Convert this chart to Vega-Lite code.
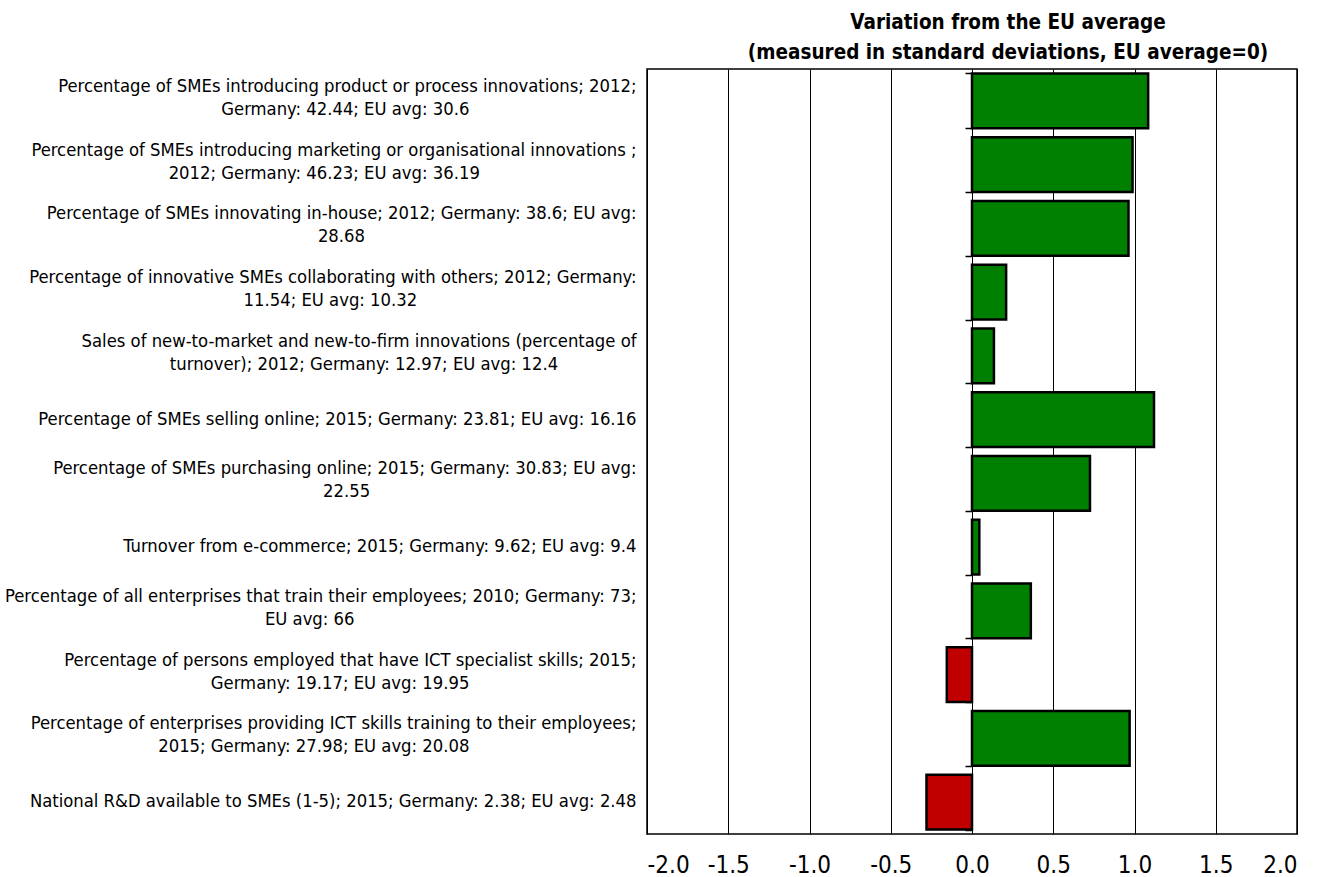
{
  "$schema": "https://vega.github.io/schema/vega-lite/v6.json",
  "autosize": {"type": "none"},
  "padding": {"left": 647, "top": 69, "right": 33, "bottom": 43},
  "width": 650,
  "height": 765,
  "background": "white",
  "config": {
    "view": {"stroke": "#000000", "strokeWidth": 1.5},
    "font": "DejaVu Sans Condensed, DejaVu Sans, sans-serif"
  },
  "title": {
    "text": ["Variation from the EU average", "(measured in standard deviations, EU average=0)"],
    "font": "DejaVu Sans Condensed, DejaVu Sans, sans-serif",
    "fontSize": 20.5,
    "fontWeight": "bold",
    "color": "#000000",
    "anchor": "middle",
    "dx": 36,
    "offset": 6,
    "lineHeight": 30
  },
  "data": {
    "values": [
      {"indicator": "Percentage of SMEs introducing product or process innovations; 2012;|Germany: 42.44; EU avg: 30.6", "sd": 1.084},
      {"indicator": "Percentage of SMEs introducing marketing or organisational innovations ;|2012; Germany: 46.23; EU avg: 36.19", "sd": 0.988},
      {"indicator": "Percentage of SMEs innovating in-house; 2012; Germany: 38.6; EU avg:|28.68", "sd": 0.963},
      {"indicator": "Percentage of innovative SMEs collaborating with others; 2012; Germany:|11.54; EU avg: 10.32", "sd": 0.21},
      {"indicator": "Sales of new-to-market and new-to-firm innovations (percentage of|turnover); 2012; Germany: 12.97; EU avg: 12.4", "sd": 0.135},
      {"indicator": "Percentage of SMEs selling online; 2015; Germany: 23.81; EU avg: 16.16", "sd": 1.12},
      {"indicator": "Percentage of SMEs purchasing online; 2015; Germany: 30.83; EU avg:|22.55", "sd": 0.726},
      {"indicator": "Turnover from e-commerce; 2015; Germany: 9.62; EU avg: 9.4", "sd": 0.045},
      {"indicator": "Percentage of all enterprises that train their employees; 2010; Germany: 73;|EU avg: 66", "sd": 0.362},
      {"indicator": "Percentage of persons employed that have ICT specialist skills; 2015;|Germany: 19.17; EU avg: 19.95", "sd": -0.155},
      {"indicator": "Percentage of enterprises providing ICT skills training to their employees;|2015; Germany: 27.98; EU avg: 20.08", "sd": 0.97},
      {"indicator": "National R&D available to SMEs (1-5); 2015; Germany: 2.38; EU avg: 2.48", "sd": -0.28}
    ]
  },
  "encoding": {
    "y": {
      "field": "indicator",
      "type": "nominal",
      "sort": null,
      "scale": {"paddingInner": 0.14, "paddingOuter": 0.07}
    },
    "x": {
      "field": "sd",
      "type": "quantitative",
      "scale": {"domain": [-2, 2], "nice": false, "zero": false},
      "axis": {
        "title": null,
        "values": [-2, -1.5, -1, -0.5, 0, 0.5, 1, 1.5, 2],
        "labelExpr": "replace(format(datum.value, '.1f'), '\u2212', '-')",
        "labelFontSize": 24,
        "labelColor": "#000000",
        "labelPadding": 19,
        "ticks": false,
        "domain": false,
        "grid": true,
        "gridColor": "#000000",
        "gridWidth": 1,
        "gridOpacity": 1
      }
    }
  },
  "layer": [
    {
      "mark": {"type": "bar", "stroke": "#000000", "strokeWidth": 2.5},
      "encoding": {
        "color": {
          "condition": {"test": "datum.sd < 0", "value": "#C00000"},
          "value": "#008000"
        },
        "y": {
          "field": "indicator",
          "type": "nominal",
          "sort": null,
          "axis": {
            "title": null,
            "orient": "left",
            "ticks": false,
            "domain": false,
            "labelFontSize": 18.3,
            "labelColor": "#000000",
            "labelPadding": 11,
            "labelLimit": 700,
            "labelLineHeight": 23,
            "labelAlign": "right",
            "labelBaseline": "middle",
            "labelOffset": {"condition": {"test": "indexof(datum.value, '|') >= 0", "value": -14}, "value": 0},
            "labelExpr": "indexof(datum.value, '|') < 0 ? datum.value : [split(datum.value, '|')[0], pad(split(datum.value, '|')[1], length(split(datum.value, '|')[1]) + max(0, round(0.83 * length(split(datum.value, '|')[0]) - 0.86 * length(split(datum.value, '|')[1]))), '\u00a0') + '\u200b']"
          }
        }
      }
    },
    {
      "mark": {"type": "rule", "stroke": "#000000", "strokeWidth": 1},
      "encoding": {
        "x": {"datum": 0},
        "y": {
          "field": "indicator",
          "type": "nominal",
          "sort": null,
          "axis": {
            "title": null,
            "orient": "left",
            "offset": -325,
            "labels": false,
            "domain": false,
            "ticks": true,
            "tickBand": "extent",
            "tickSize": 7,
            "tickColor": "#000000",
            "tickWidth": 1.5
          }
        }
      }
    }
  ],
  "resolve": {"axis": {"y": "independent"}}
}
